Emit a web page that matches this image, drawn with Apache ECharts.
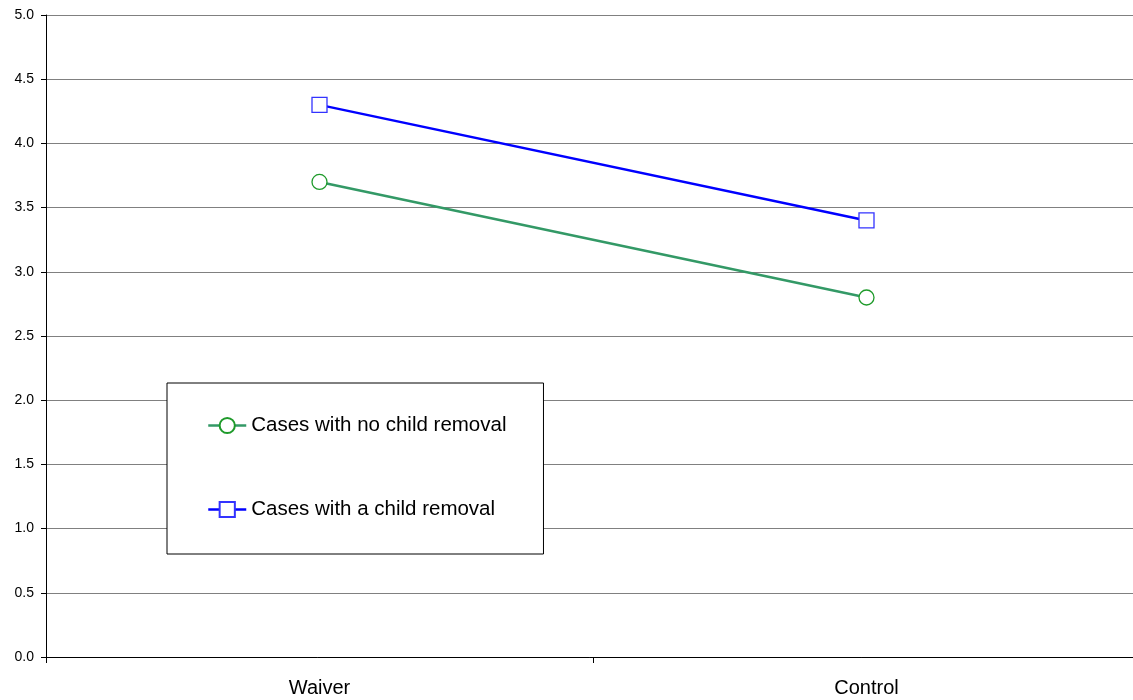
<!DOCTYPE html>
<html>
<head>
<meta charset="utf-8">
<script src="https://cdn.jsdelivr.net/npm/echarts@6/dist/echarts.min.js"></script>
<style>
html,body{margin:0;padding:0;background:#fff;}
#chart{width:1133px;height:700px;}
</style>
</head>
<body>
<div id="chart"></div>
<script>
const categories = ['Waiver', 'Control'];
const seriesNames = ['Cases with no child removal', 'Cases with a child removal'];
const noRemoval = [3.7, 2.8];
const withRemoval = [4.3, 3.4];
const yMin = 0, yMax = 5, yStep = 0.5;

const FONT = '"Liberation Sans", Arial, sans-serif';
const chart = echarts.init(document.getElementById('chart'));
chart.setOption({
  animation: false,
  backgroundColor: '#fff',
  grid: { left: 46, top: 15, width: 1094, height: 642, containLabel: false, outerBoundsMode: 'none' },
  legend: {
    left: 167, top: 383,
    orient: 'vertical',
    backgroundColor: '#fff',
    borderColor: '#000',
    borderWidth: 1,
    padding: [32, 37, 34, 40],
    itemGap: 63,
    itemWidth: 38,
    itemHeight: 19,
    lineStyle: { width: 2.5 },
    textStyle: { fontFamily: FONT, fontSize: 20.5, color: '#000', lineHeight: 21 },
    data: seriesNames
  },
  xAxis: {
    type: 'category',
    data: categories,
    boundaryGap: true,
    axisLine: { lineStyle: { color: '#000', width: 1 } },
    axisTick: { show: true, length: 6, lineStyle: { color: '#000' } },
    axisLabel: { fontFamily: FONT, fontSize: 20, color: '#000', margin: 21 },
    splitLine: { show: false }
  },
  yAxis: {
    type: 'value',
    min: yMin, max: yMax, interval: yStep,
    axisLine: { show: true, lineStyle: { color: '#000', width: 1 } },
    axisTick: { show: true, length: 5, lineStyle: { color: '#000' } },
    axisLabel: { fontFamily: FONT, fontSize: 14, color: '#000', margin: 12,
      formatter: v => v.toFixed(1) },
    splitLine: { show: true, lineStyle: { color: '#808080', width: 1 } }
  },
  series: [
    {
      name: seriesNames[0],
      type: 'line',
      data: noRemoval,
      symbol: 'circle',
      symbolSize: 15,
      lineStyle: { color: '#339966', width: 2.5 },
      itemStyle: { color: '#fff', borderColor: '#1e9a2a', borderWidth: 1.3 },
      z: 3
    },
    {
      name: seriesNames[1],
      type: 'line',
      data: withRemoval,
      symbol: 'rect',
      symbolSize: 15,
      lineStyle: { color: '#0000ff', width: 2.5 },
      itemStyle: { color: '#fff', borderColor: '#3333ff', borderWidth: 1.3 },
      z: 3
    }
  ]
});
</script>
</body>
</html>
